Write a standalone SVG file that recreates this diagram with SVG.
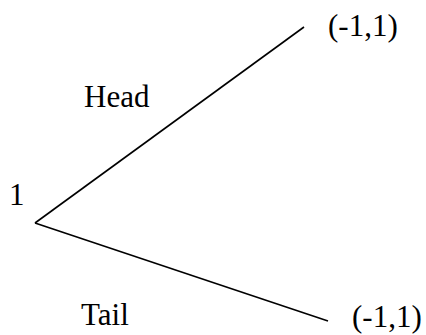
<svg xmlns="http://www.w3.org/2000/svg" width="426" height="335" viewBox="0 0 426 335">
<style>
text{font-family:"Liberation Serif","Times New Roman",serif;font-size:31px;fill:#000}
.edge{stroke:#000;stroke-width:1.6;fill:none}
</style>
<rect width="426" height="335" fill="#fff"/>
<g id="connectors">
<line class="edge" x1="35" y1="223" x2="304" y2="27"/>
<line class="edge" x1="35" y1="223" x2="328" y2="321"/>
</g>
<g id="root"><text x="9" y="205">1</text></g>
<g id="top-leaf"><text x="328" y="36">(-1,1)</text></g>
<g id="bottom-leaf"><text x="352" y="326.5">(-1,1)</text></g>
<g id="head-label"><text x="84" y="106.5">Head</text></g>
<g id="tail-label"><text x="81" y="325">Tail</text></g>
</svg>
